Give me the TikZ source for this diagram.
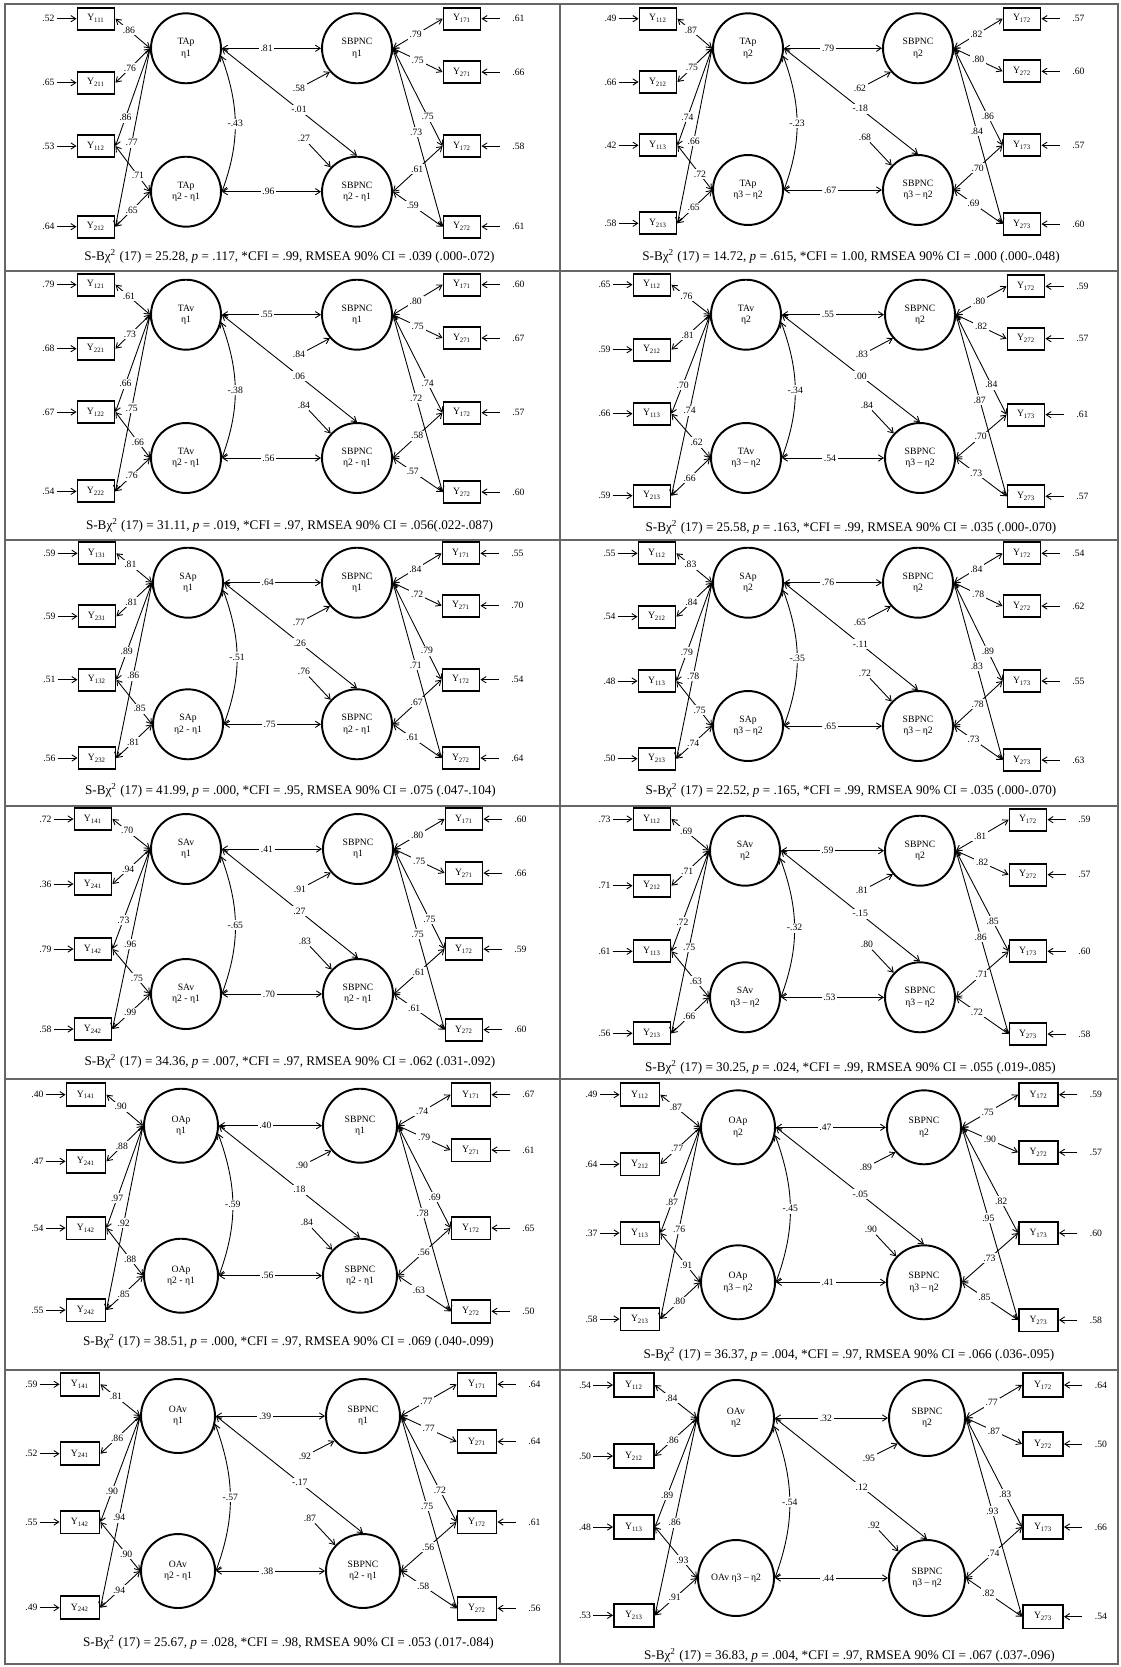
\documentclass[tikz,border=0pt]{standalone}
\usepackage{fontspec}
\setmainfont{Liberation Serif}
\usetikzlibrary{arrows.meta}

\tikzset{
  latent/.style={circle,draw,line width=1.1pt,inner sep=0pt,align=center,font=\fontsize{5.5}{6.6}\selectfont},
  obs/.style={rectangle,draw,line width=1.1pt,inner sep=0pt,font=\fontsize{5.5}{6.6}\selectfont},
  lab/.style={fill=white,inner sep=1pt,font=\fontsize{5.5}{6.6}\selectfont},
  fitstat/.style={font=\fontsize{7.5}{9}\selectfont},
  link/.style={line width=0.5pt},
  frame/.style={draw=black!60,line width=0.7pt}
}

% fit line under each model
\newcommand\fitline[4]{S-Bχ\textsuperscript{2} (17) = #1, \textit{p} = #2, *CFI = #3, RMSEA 90\% CI = #4}

\def\setgeom#1,#2,#3,#4,#5,#6,#7,#8\relax{%
  \def\bxL{#1}\def\cxL{#2}\def\cxR{#3}\def\bxR{#4}%
  \def\ycA{#5}\def\ycB{#6}\def\yfit{#7}\def\rr{#8}}
\def\setpaths#1/#2/#3/#4/#5/#6\relax{%
  \def\pthA{#1}\def\dstA{#2}\def\pthX{#3}\def\dstB{#4}\def\pthB{#5}\def\corr{#6}}

% one latent change model: geometry, four circles, indicators, paths, fit
\newcommand\sempanel[9]{%
  \setgeom#1\relax
  \setpaths#8\relax
  \pgfmathsetmacro\bw{\rr+2}
  \pgfmathsetmacro\bh{0.62*\rr}
  \tikzset{box/.style={obs,minimum width=\bw*0.02cm,minimum height=\bh*0.02cm}}
  \node[latent,minimum size=\rr*0.04cm] (L1) at (\cxL,-\ycA) {#2};
  \node[latent,minimum size=\rr*0.04cm] (L2) at (\cxL,-\ycB) {#3};
  \node[latent,minimum size=\rr*0.04cm] (R1) at (\cxR,-\ycA) {#4};
  \node[latent,minimum size=\rr*0.04cm] (R2) at (\cxR,-\ycB) {#5};
  % left indicators
  \foreach \sub/\yy/\err/\ldt/\ldb [count=\i] in {#6} {
    \node[box] (bL\i) at (\bxL,-\yy) {Y\textsubscript{\sub}};
    \node[lab] (eL\i) at ([shift={(-28,0)}]bL\i.west) {\err};
    \draw[link,->] (eL\i) -- (bL\i);
    \edef\pT{\ifcase\i\or0.61\or0.58\or0.71\or0.53\fi}
    \draw[link,<->] (L1.west) -- (bL\i.east) node[lab,pos=\pT] {\ldt};
    \ifnum\i>2
      \edef\pB{\ifnum\i=3 0.35\else 0.53\fi}
      \draw[link,<->] (L2.west) -- (bL\i.east) node[lab,pos=\pB] {\ldb};
    \fi
  }
  % right indicators
  \foreach \sub/\yy/\err/\ldt/\ldb [count=\i] in {#7} {
    \node[box] (bR\i) at (\bxR,-\yy) {Y\textsubscript{\sub}};
    \node[lab] (eR\i) at ([shift={(37,0)}]bR\i.east) {\err};
    \draw[link,->,shorten <=6pt] (eR\i) -- (bR\i);
    \edef\pT{\ifcase\i\or0.46\or0.5\or0.7\or0.47\fi}
    \draw[link,<->] (R1.east) -- (bR\i.west) node[lab,pos=\pT] {\ldt};
    \ifnum\i>2
      \edef\pB{\ifnum\i=3 0.49\else 0.4\fi}
      \draw[link,<->] (R2.east) -- (bR\i.west) node[lab,pos=\pB] {\ldb};
    \fi
  }
  % structural paths
  \draw[link,<->] (L1.east) -- (R1.west) node[lab,pos=0.45] {\pthA};
  \draw[link,<->] (L2.east) -- (R2.west) node[lab,pos=0.47] {\pthB};
  \draw[link,<->] (L1.east) -- (R2.north) node[lab,pos=0.57] {\pthX};
  \draw[link,<->] (L1.-12) to[out=-70,in=70] node[lab] {\corr} (L2.0);
  \node[lab] (dA) at ([shift={(-58,-40)}]R1) {\dstA};
  \draw[link,->] (dA) -- (R1.221);
  \node[lab] (dB) at ([shift={(-53,53)}]R2) {\dstB};
  \draw[link,->] (dB) -- (R2.137);
  \node[fitstat] (fit) at ({(\cxL+\cxR)/2+18},-\yfit) {#9};
}

\begin{document}
\begin{tikzpicture}[x=0.02cm,y=0.02cm,>={Straight Barb[length=2.8pt,width=3.6pt]}]
\fill[white] (0,0) rectangle (1121,-1667);
\useasboundingbox (0,0) rectangle (1121,-1667);
\draw[frame] (5,-4) rectangle (1118,-1664);
\draw[frame] (560,-4) -- (560,-1664);
\foreach \yy in {271,540,806,1079,1370} \draw[frame] (5,-\yy) -- (1118,-\yy);

% TAp
\sempanel{96,186,357,462,48.3,191.7,256,35}
  {TAp\\η1}{TAp\\η2 - η1}{SBPNC\\η1}{SBPNC\\η2 - η1}
  {111/18.7/.52/.86/0, 211/82.7/.65/.76/0, 112/146/.53/.86/.71, 212/226.7/.64/.77/.65}
  {171/18.7/.61/.79/0, 271/72/.66/.75/0, 172/146/.58/.75/.61, 272/226.7/.61/.73/.59}
  {.81/.58/-.01/.27/.96/-.43}
  {\fitline{25.28}{.117}{.99}{.039 (.000-.072)}}
\sempanel{658,748,918,1022,48.3,190,256,35}
  {TAp\\η2}{TAp\\η3 – η2}{SBPNC\\η2}{SBPNC\\η3 – η2}
  {112/18.7/.49/.87/0, 212/82/.66/.75/0, 113/145.3/.42/.74/.72, 213/223.3/.58/.66/.65}
  {172/18.7/.57/.82/0, 272/71.3/.60/.80/0, 173/145.3/.57/.86/.70, 273/224/.60/.84/.69}
  {.79/.62/-.18/.68/.67/-.23}
  {\fitline{14.72}{.615}{1.00}{.000 (.000-.048)}}

% TAv
\sempanel{96,186,357,462,314.7,458,525,35}
  {TAv\\η1}{TAv\\η2 - η1}{SBPNC\\η1}{SBPNC\\η2 - η1}
  {121/284.7/.79/.61/0, 221/348.7/.68/.73/0, 122/412/.67/.66/.66, 222/491.3/.54/.75/.76}
  {171/284.7/.60/.80/0, 271/338/.67/.75/0, 172/412.7/.57/.74/.58, 272/492/.60/.72/.57}
  {.55/.84/.06/.84/.56/-.38}
  {\fitline{31.11}{.019}{.97}{.056(.022-.087)}}
\sempanel{652,746,920,1026,314.7,458,527,35}
  {TAv\\η2}{TAv\\η3 – η2}{SBPNC\\η2}{SBPNC\\η3 – η2}
  {112/284.7/.65/.76/0, 212/349.7/.59/.81/0, 113/413.7/.66/.70/.62, 213/495.7/.59/.74/.66}
  {172/286.3/.59/.80/0, 272/338.7/.57/.82/0, 173/414.7/.61/.84/.70, 273/496.3/.57/.87/.73}
  {.55/.83/.00/.84/.54/-.34}
  {\fitline{25.58}{.163}{.99}{.035 (.000-.070)}}

% SAp
\sempanel{97,188,357,461,582.7,724.3,790,35}
  {SAp\\η1}{SAp\\η2 - η1}{SBPNC\\η1}{SBPNC\\η2 - η1}
  {131/553.3/.59/.81/0, 231/616.3/.59/.81/0, 132/679.7/.51/.89/.85, 232/758/.56/.86/.81}
  {171/553.3/.55/.84/0, 271/605.7/.70/.72/0, 172/679.7/.54/.79/.67, 272/758/.64/.71/.61}
  {.64/.77/.26/.76/.75/-.51}
  {\fitline{41.99}{.000}{.95}{.075 (.047-.104)}}
\sempanel{657,748,918,1022,582.7,726,790,35}
  {SAp\\η2}{SAp\\η3 – η2}{SBPNC\\η2}{SBPNC\\η3 – η2}
  {112/553.3/.55/.83/0, 212/616.7/.54/.84/0, 113/681/.48/.79/.75, 213/758.7/.50/.78/.74}
  {172/553.3/.54/.84/0, 272/606/.62/.78/0, 173/681/.55/.89/.78, 273/760/.63/.83/.73}
  {.76/.65/-.11/.72/.65/-.35}
  {\fitline{22.52}{.165}{.99}{.035 (.000-.070)}}

% SAv
\sempanel{93,186,358,464,849,994,1061,35}
  {SAv\\η1}{SAv\\η2 - η1}{SBPNC\\η1}{SBPNC\\η2 - η1}
  {141/819/.72/.70/0, 241/884/.36/.94/0, 142/949/.79/.73/.75, 242/1029/.58/.96/.99}
  {171/819/.60/.80/0, 271/873/.66/.75/0, 172/949/.59/.75/.61, 272/1029.7/.60/.75/.61}
  {.41/.91/.27/.83/.70/-.65}
  {\fitline{34.36}{.007}{.97}{.062 (.031-.092)}}
\sempanel{652,745,920,1028,850.7,997.3,1067,35}
  {SAv\\η2}{SAv\\η3 – η2}{SBPNC\\η2}{SBPNC\\η3 – η2}
  {112/819/.73/.69/0, 212/885.7/.71/.71/0, 113/951.3/.61/.72/.63, 213/1033.3/.56/.75/.66}
  {172/819.7/.59/.81/0, 272/874.7/.57/.82/0, 173/951.3/.60/.85/.71, 273/1034/.58/.86/.72}
  {.59/.81/-.15/.80/.53/-.32}
  {\fitline{30.25}{.024}{.99}{.055 (.019-.085)}}

% OAp
\sempanel{86,181,360,471,1125.7,1275.7,1341,37}
  {OAp\\η1}{OAp\\η2 - η1}{SBPNC\\η1}{SBPNC\\η2 - η1}
  {141/1094.7/.40/.90/0, 241/1161.3/.47/.88/0, 142/1228/.54/.97/.88, 242/1310/.55/.92/.85}
  {171/1094.7/.67/.74/0, 271/1150/.61/.79/0, 172/1228/.65/.69/.56, 272/1311.3/.50/.78/.63}
  {.40/.90/.18/.84/.56/-.59}
  {\fitline{38.51}{.000}{.97}{.069 (.040-.099)}}
\sempanel{640,738,924,1038.5,1127.3,1282.3,1354,37}
  {OAp\\η2}{OAp\\η3 – η2}{SBPNC\\η2}{SBPNC\\η3 – η2}
  {112/1094.7/.49/.87/0, 212/1164/.64/.77/0, 113/1233/.37/.87/.91, 213/1319/.58/.76/.80}
  {172/1094.7/.59/.75/0, 272/1152.3/.57/.90/0, 173/1233/.60/.82/.73, 273/1320/.58/.95/.85}
  {.47/.89/-.05/.90/.41/-.45}
  {\fitline{36.37}{.004}{.97}{.066 (.036-.095)}}

% OAv
\sempanel{80,178,363,477,1416,1571,1642,37}
  {OAv\\η1}{OAv\\η2 - η1}{SBPNC\\η1}{SBPNC\\η2 - η1}
  {141/1384.3/.59/.81/0, 241/1453.7/.52/.86/0, 142/1522/.55/.90/.90, 242/1607.7/.49/.94/.94}
  {171/1384.3/.64/.77/0, 271/1441.7/.64/.77/0, 172/1522/.61/.72/.56, 272/1608.3/.56/.75/.58}
  {.39/.92/-.17/.87/.38/-.57}
  {\fitline{25.67}{.028}{.98}{.053 (.017-.084)}}
\sempanel{634,736,927,1043,1418,1578,1655,38}
  {OAv\\η2}{OAv η3 – η2}{SBPNC\\η2}{SBPNC\\η3 – η2}
  {112/1385/.54/.84/0, 212/1456/.50/.86/0, 113/1527/.48/.89/.93, 213/1615.3/.53/.86/.91}
  {172/1385/.64/.77/0, 272/1444/.50/.87/0, 173/1527/.66/.83/.74, 273/1616.7/.54/.93/.82}
  {.32/.95/.12/.92/.44/-.54}
  {\fitline{36.83}{.004}{.97}{.067 (.037-.096)}}
\end{tikzpicture}
\end{document}
